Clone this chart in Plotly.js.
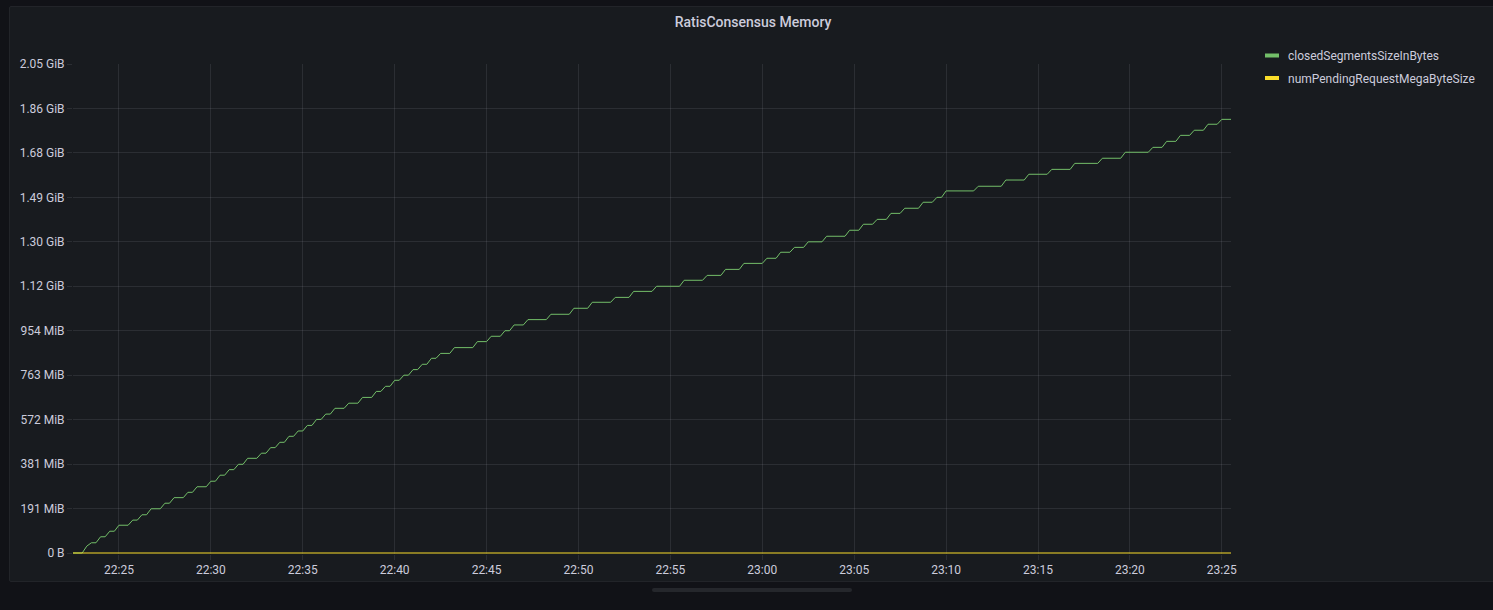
<!DOCTYPE html>
<html>
<head>
<meta charset="utf-8">
<script src="https://cdn.plot.ly/plotly-3.0.1.min.js"></script>
<style>
  html, body { margin:0; padding:0; background:#111217; width:1493px; height:610px; overflow:hidden; }
  #panel { position:absolute; left:9px; top:6px; width:1490px; height:574px; background:#181b1f; border:1px solid #222429; border-radius:2px; }
  #scroll { position:absolute; left:652px; top:588px; width:200px; height:4px; border-radius:2px; background:#25272c; }
  #chart { position:absolute; left:0; top:0; width:1493px; height:610px; }
</style>
</head>
<body>
<div id="panel"></div>
<div id="scroll"></div>
<div id="chart"></div>
<script>
const DAY = "2023-01-01 ";
const chartTitle = "RatisConsensus Memory";
const seriesNames = ["closedSegmentsSizeInBytes", "numPendingRequestMegaByteSize"];
const seriesColors = ["#73BF69", "#FADE2A"];

// closedSegmentsSizeInBytes, times (HH:MM:SS) and values in MB (1e6 bytes)
const closedTimes = [
  "22:22:30","22:23:00","22:23:15","22:23:30","22:23:45","22:24:00","22:24:15","22:24:30","22:24:45","22:25:00",
  "22:25:30","22:25:45","22:26:00","22:26:15","22:26:30","22:26:45","22:27:15","22:27:30","22:27:45","22:28:00",
  "22:28:30","22:28:45","22:29:00","22:29:15","22:29:45","22:30:00","22:30:15","22:30:30","22:30:45","22:31:00",
  "22:31:15","22:31:30","22:31:45","22:32:00","22:32:30","22:32:45","22:33:00","22:33:15","22:33:30","22:33:45",
  "22:34:00","22:34:15","22:34:30","22:34:45","22:35:00","22:35:15","22:35:30","22:35:45","22:36:00","22:36:15",
  "22:36:30","22:36:45","22:37:15","22:37:30","22:38:00","22:38:15","22:38:45","22:39:00","22:39:15","22:39:30",
  "22:39:45","22:40:00","22:40:15","22:40:30","22:40:45","22:41:00","22:41:15","22:41:30","22:41:45","22:42:00",
  "22:42:15","22:42:30","22:43:00","22:43:15","22:44:15","22:44:30","22:45:00","22:45:15","22:45:45","22:46:00",
  "22:46:15","22:46:30","22:47:00","22:47:15","22:48:15","22:48:30","22:49:30","22:49:45","22:50:30","22:50:45",
  "22:51:45","22:52:00","22:52:45","22:53:00","22:54:00","22:54:15","22:55:30","22:55:45","22:56:45","22:57:00",
  "22:57:45","22:58:00","22:58:45","22:59:00","23:00:00","23:00:15","23:00:45","23:01:00","23:01:30","23:01:45",
  "23:02:15","23:02:30","23:03:15","23:03:30","23:04:30","23:04:45","23:05:15","23:05:30","23:06:00","23:06:15",
  "23:06:45","23:07:00","23:07:30","23:07:45","23:08:30","23:08:45","23:09:15","23:09:30","23:09:45","23:10:00",
  "23:11:30","23:11:45","23:13:00","23:13:15","23:14:15","23:14:30","23:15:30","23:15:45","23:16:45","23:17:00",
  "23:18:15","23:18:30","23:19:30","23:19:45","23:21:00","23:21:15","23:21:45","23:22:00","23:22:30","23:22:45",
  "23:23:15","23:23:30","23:24:00","23:24:15","23:24:45","23:25:00","23:25:30"
];
const closedMB = [
  0,0,31,46,46,73,73,98,98,125,
  125,148,148,172,172,199,199,224,224,249,
  249,273,273,298,298,323,323,350,350,375,
  375,399,399,426,426,449,449,474,474,498,
  498,525,525,549,549,574,574,601,601,625,
  625,651,651,674,674,700,700,727,727,750,
  750,777,777,800,800,825,825,849,849,876,
  876,898,898,924,924,951,951,975,975,1000,
  1000,1026,1026,1050,1050,1074,1074,1101,1101,1128,
  1128,1150,1150,1177,1177,1200,1200,1227,1227,1249,
  1249,1276,1276,1303,1303,1326,1326,1353,1353,1375,
  1375,1400,1400,1425,1425,1452,1452,1479,1479,1501,
  1501,1528,1528,1551,1551,1578,1578,1600,1600,1629,
  1629,1650,1650,1678,1678,1704,1704,1726,1726,1753,
  1753,1776,1776,1803,1803,1825,1825,1852,1852,1879,
  1879,1902,1902,1929,1929,1951,1951
];

// numPendingRequestMegaByteSize (flat at zero)
const pendingTimes = ["22:22:30","22:37:30","22:52:30","23:07:30","23:25:30"];
const pendingMB = [0, 0, 0, 0, 0];

// axes
const xRange = ["22:22:30", "23:25:30"];
const xTick0 = "22:25:00";
const yRangeMB = [-4.5, 2200];
const yTickValsMB = [0,200,400,600,800,1000,1200,1400,1600,1800,2000,2200];
const yTickText = ["0 B","191 MiB","381 MiB","572 MiB","763 MiB","954 MiB","1.12 GiB","1.30 GiB","1.49 GiB","1.68 GiB","1.86 GiB","2.05 GiB"];

const W = 1493, H = 610;
const M = { l: 73, r: 262, t: 64, b: 56 };
const plotW = W - M.l - M.r, plotH = H - M.t - M.b;
const px2x = px => (px - M.l) / plotW;
const px2y = py => (H - M.b - py) / plotH;

const textColor = "#ccccdc";
const gridColor = "rgba(204,204,220,0.11)";
const font = { family: "Roboto, 'DejaVu Sans', sans-serif", size: 12, color: textColor };

const traces = [
  {
    x: closedTimes.map(t => DAY + t), y: closedMB, type: "scatter", mode: "lines",
    name: seriesNames[0], line: { color: seriesColors[0], width: 1 }, hoverinfo: "skip"
  },
  {
    x: pendingTimes.map(t => DAY + t), y: pendingMB, type: "scatter", mode: "lines",
    name: seriesNames[1], line: { color: seriesColors[1], width: 1 }, hoverinfo: "skip"
  }
];

// Grafana-style legend (short thick bars + names)
const legendY = [55.5, 78];
const shapes = seriesNames.map((n, i) => ({
  type: "rect", xref: "paper", yref: "paper",
  x0: px2x(1265), x1: px2x(1279), y0: px2y(legendY[i] + 2), y1: px2y(legendY[i] - 2),
  fillcolor: seriesColors[i], line: { width: 0 }
}));
const annotations = seriesNames.map((n, i) => ({
  text: n, xref: "paper", yref: "paper", x: px2x(1286), y: px2y(legendY[i] + 0.5),
  xanchor: "left", yanchor: "middle", showarrow: false, font: font
}));

const layout = {
  width: W, height: H,
  margin: M,
  paper_bgcolor: "rgba(0,0,0,0)", plot_bgcolor: "rgba(0,0,0,0)",
  font: font,
  showlegend: false,
  title: {
    text: chartTitle, xref: "container", yref: "container",
    x: 753 / W, y: 1 - 22 / H, xanchor: "center", yanchor: "middle",
    font: { family: font.family, size: 14, color: textColor, weight: 500 }
  },
  xaxis: {
    type: "date", range: xRange.map(t => DAY + t),
    tick0: DAY + xTick0, dtick: 300000, tickformat: "%H:%M",
    showgrid: true, gridcolor: gridColor, gridwidth: 1,
    ticks: "outside", ticklen: 5, tickcolor: gridColor,
    zeroline: false, showline: false, tickfont: font, fixedrange: true
  },
  yaxis: {
    range: yRangeMB, tickmode: "array", tickvals: yTickValsMB, ticktext: yTickText,
    showgrid: true, gridcolor: gridColor, gridwidth: 1,
    ticks: "outside", ticklen: 5, tickcolor: gridColor,
    zeroline: false, showline: false, tickfont: font, fixedrange: true
  },
  shapes: shapes,
  annotations: annotations
};

Plotly.newPlot("chart", traces, layout, { displayModeBar: false, staticPlot: true });
</script>
</body>
</html>
